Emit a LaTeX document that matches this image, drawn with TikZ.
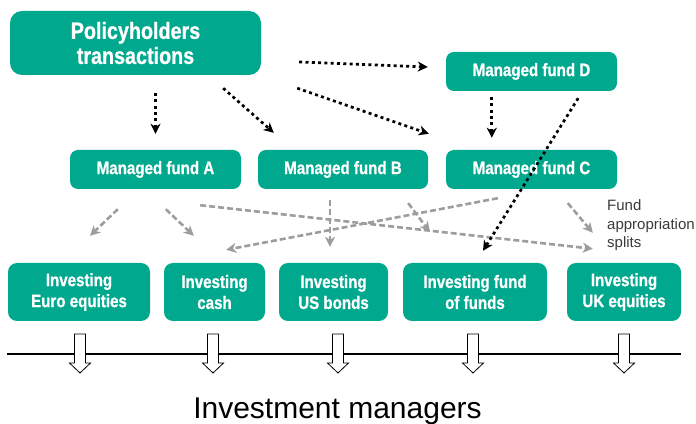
\documentclass[tikz,border=0pt]{standalone}
\usepackage{fontspec}
\setmainfont{Liberation Sans}
\newfontfamily\narrowfont[FakeStretch=0.84,FakeBold=0.8]{Liberation Sans}
\usetikzlibrary{arrows.meta}
\definecolor{fundteal}{HTML}{00A88E}
\definecolor{splitgrey}{HTML}{9D9D9F}
\definecolor{notegrey}{HTML}{3A3A3A}

\begin{document}
\begin{tikzpicture}[x=1pt, y=1pt, >={Stealth[length=10pt,width=10pt,inset=3pt]},
  fund/.style={fill=fundteal, text=white, rounded corners=8pt, align=center, inner sep=0pt,
    font=\narrowfont\bfseries\fontsize{18}{21}\selectfont},
  flow/.style={->, line width=2.7pt, dash pattern=on 3pt off 3.3pt},
  split/.style={->, splitgrey, line width=2.6pt, dash pattern=on 6pt off 3pt}]
    \useasboundingbox (0,0) rectangle (696,423);

    \node[fund, rounded corners=12pt, minimum width=251pt, minimum height=64pt,
      font=\narrowfont\bfseries\fontsize{23.5}{25}\selectfont] (pol) at (135.5,380) {Policyholders\\transactions};
    \node[fund, minimum width=171pt, minimum height=39pt] (fA) at (155.5,253.5) {Managed fund A};
    \node[fund, minimum width=170pt, minimum height=39pt] (fB) at (343,253.5) {Managed fund B};
    \node[fund, minimum width=171pt, minimum height=39pt] (fC) at (531.5,253.5) {Managed fund C};
    \node[fund, minimum width=171pt, minimum height=39pt] (fD) at (531.5,351.5) {Managed fund D};

    \node[fund, rounded corners=9pt, minimum width=142pt, minimum height=58pt] (iEuro) at (79,131) {Investing\\Euro equities};
    \node[fund, rounded corners=9pt, minimum width=101pt, minimum height=58pt] (iCash) at (214.5,131) {Investing\\cash};
    \node[fund, rounded corners=9pt, minimum width=109pt, minimum height=58pt] (iUS) at (333.5,131) {Investing\\US bonds};
    \node[fund, rounded corners=9pt, minimum width=144pt, minimum height=58pt] (iFoF) at (475,131) {Investing fund\\of funds};
    \node[fund, rounded corners=9pt, minimum width=114pt, minimum height=58pt] (iUK) at (624,131) {Investing\\UK equities};

    \node[anchor=north west, align=left, inner sep=0pt, text=notegrey,
      font=\fontsize{15}{18.5}\selectfont] (note) at (607,223.5) {Fund\\appropriation\\splits};

    \draw[split] ([shift={(48,-20)}]fA.south west) -- ([shift={(11,27)}]iEuro.north);
    \draw[split] ([shift={(96,-20)}]fA.south west) -- ([shift={(30,27)}]iCash.north west);
    \draw[split] ([shift={(-41,-16)}]fA.south east) -- ([shift={(26,14)}]iUK.north west);
    \draw[split] ([shift={(-13,-11)}]fB.south) -- ([shift={(-3.5,16)}]iUS.north);
    \draw[split] ([shift={(-20,-14)}]fB.south east) -- ([shift={(27,31)}]iFoF.north west);
    \draw[split] ([shift={(52,-9)}]fC.south west) -- ([shift={(-39,13)}]iCash.north east);
    \draw[split] ([shift={(122,-14)}]fC.south west) -- ([shift={(26,30)}]iUK.north west);

    \draw[flow] ([shift={(20,-18)}]pol.south) -- ([shift={(0,16)}]fA.north);
    \draw[flow] ([shift={(-38,-13)}]pol.south east) -- ([shift={(16,17)}]fB.north west);
    \draw[flow] ([shift={(38,-19)}]pol.east) -- ([shift={(-18,4.5)}]fD.west);
    \draw[flow] ([shift={(36,-13)}]pol.south east) -- ([shift={(-17,16)}]fC.north west);
    \draw[flow] ([shift={(46,-6)}]fD.south west) -- ([shift={(46,12)}]fC.north west);
    \draw[flow] ([shift={(-39,-7)}]fD.south east) -- ([shift={(8,12)}]iFoF.north);

    \draw[line width=1.8pt] (7,69) -- (681,69);
    \foreach \x in {80,213,338,473,624}
        \draw[fill=white, line width=0.8pt] (\x-5.5,89) -- (\x+5.5,89) -- (\x+5.5,60) -- (\x+10.5,60)
            -- (\x,50) -- (\x-10.5,60) -- (\x-5.5,60) -- cycle;

    \node[anchor=base, inner sep=0pt, font=\fontsize{30}{30}\selectfont] (mgrs) at (337.5,5) {Investment managers};
\end{tikzpicture}
\end{document}
